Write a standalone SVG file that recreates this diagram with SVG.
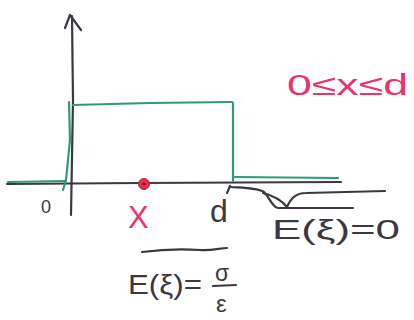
<svg xmlns="http://www.w3.org/2000/svg" width="414" height="320" viewBox="0 0 414 320">
<style>
.ink{fill:none;stroke:#3b3840;stroke-width:2.2;stroke-linecap:round;stroke-linejoin:round}
.grn{fill:none;stroke:#2f9a78;stroke-width:2.2;stroke-linecap:round;stroke-linejoin:round}
.hand{font-family:"Liberation Sans",Arial,sans-serif;fill:#3b3840}
.pink{font-family:"Liberation Sans",Arial,sans-serif;fill:#e8356e}
</style>
<rect width="414" height="320" fill="#ffffff"/>
<g id="connectors">
<path class="ink" d="M72 16 L73 100 L71 215"/>
<path class="ink" d="M65 28 L70 15 L81 30"/>
<path class="ink" d="M7 184 L140 183 L341 182"/>
<path class="grn" d="M8 182 L66 181"/>
<path class="grn" d="M69 102 L70 140 L66 180 L63 190"/>
<path class="grn" d="M73 105 L150 103 L232 102"/>
<path class="grn" d="M233 103 L233 181"/>
<path class="grn" d="M235 177 L338 178"/>
<path class="ink" d="M230 187 C245 188 258 188 264 192 C270 198 272 207 278 208 L353 208"/>
<path class="ink" d="M263 193 C275 196 283 202 287 207 C291 198 296 193 306 193 L385 191"/>
<path class="ink" d="M142 252 C165 249 185 249 200 250 C212 251 220 248 227 248"/>
<path class="ink" d="M213 286 L236 285"/>
<path class="ink" d="M230 186 L227 193"/>
</g>
<g id="point-x">
<circle cx="144" cy="184" r="5.5" fill="#e03050" stroke="#c02040" stroke-width="1"/>
<circle cx="144" cy="184" r="1.6" fill="#7a1020"/>
</g>
<g id="labels">
<text class="hand" x="41" y="213" font-size="18">0</text>
<text class="pink" x="128" y="228" font-size="31">X</text>
<text class="hand" x="210" y="222" font-size="32">d</text>
<text class="pink" x="287" y="95" font-size="29" textLength="121" lengthAdjust="spacingAndGlyphs">0≤x≤d</text>
<text class="hand" x="272" y="239" font-size="28" textLength="128" lengthAdjust="spacingAndGlyphs">E(ξ)=0</text>
<text class="hand" x="128" y="294" font-size="28" textLength="74" lengthAdjust="spacingAndGlyphs">E(ξ)=</text>
<text class="hand" x="215" y="281" font-size="23">σ</text>
<text class="hand" x="216" y="312" font-size="24">ε</text>
</g>
</svg>
